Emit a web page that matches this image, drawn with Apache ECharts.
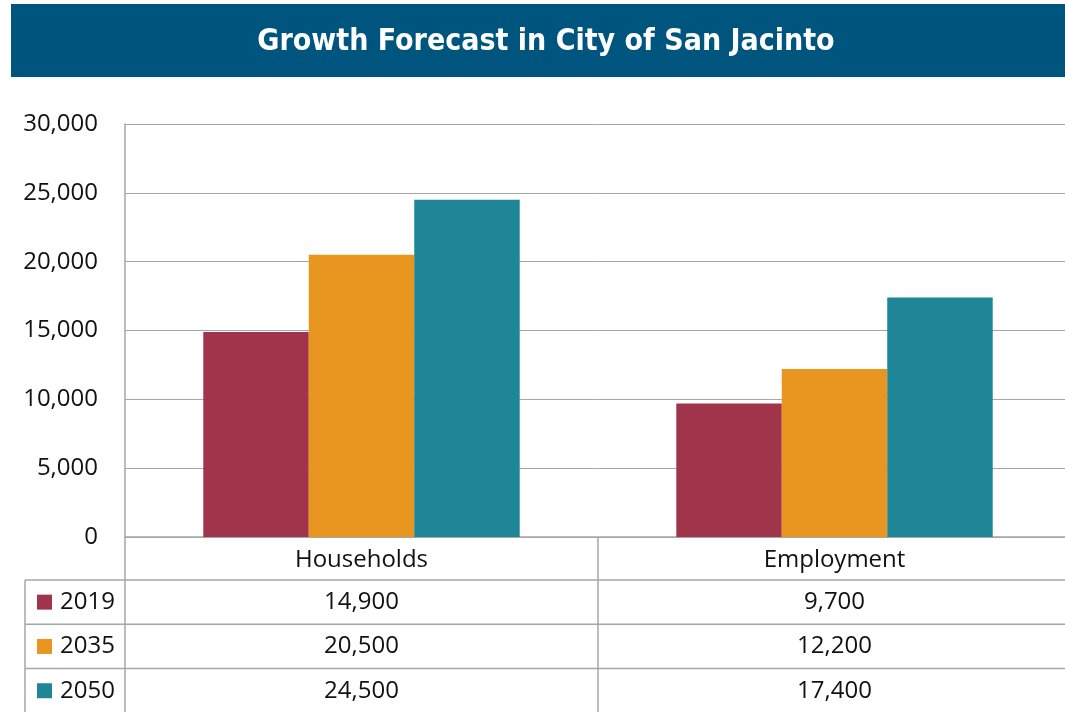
<!DOCTYPE html>
<html>
<head>
<meta charset="utf-8">
<script src="https://cdn.jsdelivr.net/npm/echarts@6/dist/echarts.min.js"></script>
<style>
  html, body { margin: 0; padding: 0; background: #fff; overflow: hidden; }
  #chart { width: 1065px; height: 712px; }
</style>
</head>
<body>
<div id="chart"></div>
<script>
const categories = ["Households", "Employment"];
const years = ["2019", "2035", "2050"];
const values2019 = [14900, 9700];
const values2035 = [20500, 12200];
const values2050 = [24500, 17400];
const yTicks = [0, 5000, 10000, 15000, 20000, 25000, 30000];

const colors = ["#a0344b", "#e8961f", "#1e8696"];
const seriesValues = [values2019, values2035, values2050];
const gridColor = "#a6a6a6";
const font = "'Open Sans', 'Noto Sans', sans-serif";
const fontSize = 24;

const fmt = (v) => v.toLocaleString("en-US");

const chart = echarts.init(document.getElementById("chart"));

const option = {
  animation: false,
  title: {
    text: "Growth Forecast in City of San Jacinto",
    left: 541,
    textAlign: "center",
    top: 22,
    textStyle: {
      color: "#fff",
      fontSize: 30,
      fontWeight: "bold",
      fontFamily: "'Liberation Sans Narrow', 'DejaVu Sans Condensed', sans-serif",
    },
  },
  // plot runs a little past the right edge, like the original
  grid: { left: 125, width: 946, top: 124, height: 413, outerBoundsMode: "none", containLabel: false },
  xAxis: {
    type: "category",
    data: categories,
    axisLine: { lineStyle: { color: gridColor, width: 1.5 } },
    axisTick: { show: true, length: 175, lineStyle: { color: gridColor, width: 1.5 } },
    axisLabel: { color: "#111", fontSize: fontSize, fontFamily: font, margin: 11 },
  },
  yAxis: {
    type: "value",
    min: yTicks[0],
    max: yTicks[yTicks.length - 1],
    interval: 5000,
    axisLine: { show: true, lineStyle: { color: gridColor, width: 1.5 } },
    splitLine: { lineStyle: { color: gridColor, width: 1 } },
    axisLabel: {
      color: "#111",
      fontSize: fontSize,
      fontFamily: font,
      margin: 27,
      formatter: (v) => fmt(v),
    },
  },
  series: years.map((y, i) => ({
    name: y,
    type: "bar",
    data: seriesValues[i],
    barWidth: "22.3%",
    barGap: "0%",
    itemStyle: { color: colors[i] },
  })),
};

chart.setOption(option);

// banner + data table under the x axis
const rowTop = 580;
const rowH = 44.3;
const left = 25;
const elements = [
  { type: "rect", z: -1, shape: { x: 11, y: 4, width: 1054, height: 73 }, style: { fill: "#00557f" } },
  { type: "line", shape: { x1: left, y1: rowTop, x2: left, y2: 712 }, style: { stroke: gridColor, lineWidth: 1.5 } },
];
for (let r = 0; r < 3; r++) {
  const y = rowTop + r * rowH;
  elements.push({ type: "line", shape: { x1: left, y1: y, x2: 1065, y2: y }, style: { stroke: gridColor, lineWidth: 1.5 } });
  const cy = y + rowH / 2;
  elements.push({ type: "rect", shape: { x: 37, y: cy - 7.5, width: 15, height: 15 }, style: { fill: colors[r] } });
  elements.push({
    type: "text", x: 60, y: cy,
    style: { text: years[r], fill: "#111", fontSize: fontSize, fontFamily: font, verticalAlign: "middle" },
  });
  categories.forEach((c, ci) => {
    const cx = chart.convertToPixel({ xAxisIndex: 0 }, c);
    elements.push({
      type: "text", x: cx, y: cy,
      style: { text: fmt(seriesValues[r][ci]), fill: "#111", fontSize: fontSize, fontFamily: font, align: "center", verticalAlign: "middle" },
    });
  });
}
chart.setOption({ graphic: { elements } });
</script>
</body>
</html>
